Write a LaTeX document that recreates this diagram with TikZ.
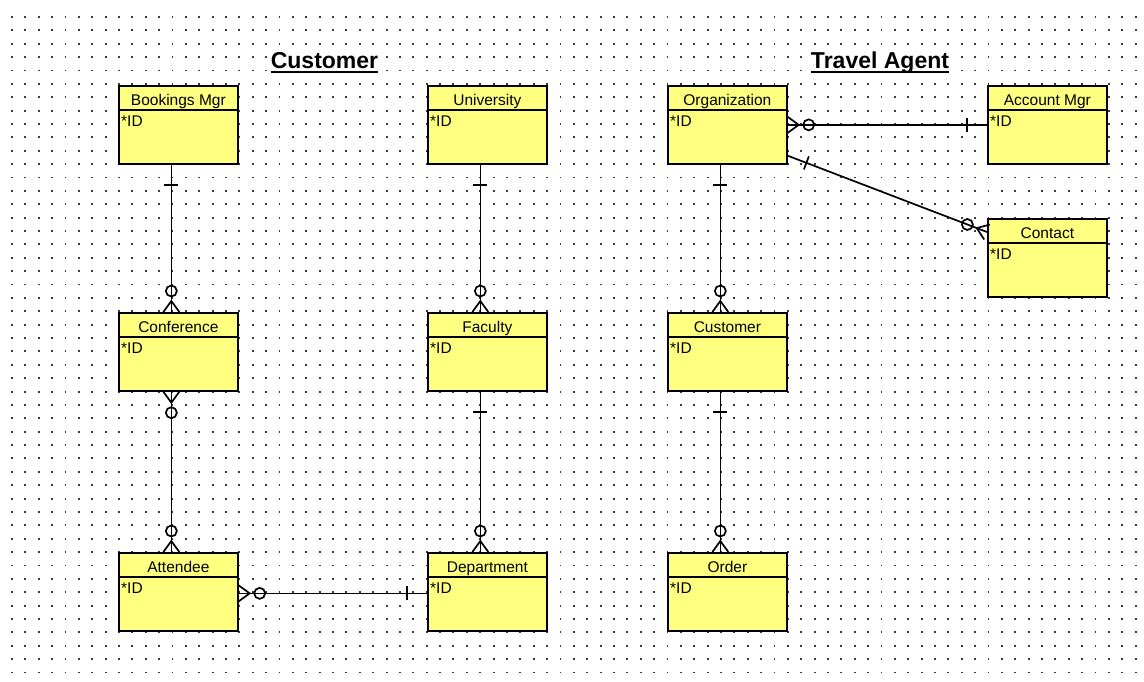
\documentclass[tikz,border=0pt]{standalone}
\usepackage{fontspec}
\setmainfont{Liberation Sans}
\usetikzlibrary{calc}
\definecolor{entfill}{RGB}{255,255,128}
\definecolor{griddot}{RGB}{60,60,60}

\tikzset{
  entity/.style={rectangle, draw=black, line width=1.7pt, fill=entfill,
    minimum width=119pt, minimum height=78pt, inner sep=0pt},
  entline/.style={line width=1.7pt, black},
  enttitle/.style={anchor=base, inner sep=0pt, font=\fontsize{15.5}{18}\selectfont},
  entattr/.style={anchor=base west, inner sep=0pt, font=\fontsize{15.5}{18}\selectfont},
  conn/.style={line width=1.7pt, black},
  titletext/.style={anchor=base, fill=white, inner xsep=3pt, inner ysep=4pt,
    font=\bfseries\fontsize{23}{26}\selectfont},
  gridrow/.style={griddot, line width=1.9pt, dash pattern=on 1.9pt off 11.477pt}
}

\newcommand{\erent}[4]{%
  \node[entity, anchor=north west] (#1) at (#2,#3) {};
  \draw[entline] ($(#1.north west)+(0,25)$) -- ($(#1.north east)+(0,25)$);
  \node[enttitle] (#1-t) at ($(#1.north)+(0,20)$) {#4};
  \node[entattr] (#1-a) at ($(#1.north west)+(3,41)$) {*ID};
}
\newcommand{\mkbar}[2]{%
  \path coordinate (mk) at ($(#1)!20pt!(#2)$);
  \draw[conn] ($(mk)!7pt!90:(#2)$) -- ($(mk)!7pt!-90:(#2)$);
}
\newcommand{\mkmany}[2]{%
  \path coordinate (mk) at ($(#1)!11pt!(#2)$);
  \draw[conn] ($(#1)!8pt!90:(#2)$) -- (mk) -- ($(#1)!8pt!-90:(#2)$);
  \draw[conn] ($(#1)!21pt!(#2)$) circle[radius=5.5pt];
}

\begin{document}
\begin{tikzpicture}[x=1pt, y=-1pt]
\useasboundingbox[fill=white] (0,0) rectangle (1144,681);

% dotted grid
\foreach \j in {0,...,49} {
  \draw[gridrow] (11.05,{17+\j*13.377}) -- (1138,{17+\j*13.377});
}

% titles
\node[titletext] (tcust) at (324.5,68.5) {Customer};
\draw[line width=2pt] ($(tcust.base west)+(3,3.5)$) -- ($(tcust.base east)+(-3,3.5)$);
\node[titletext] (tagent) at (880,68.5) {Travel Agent};
\draw[line width=2pt] ($(tagent.base west)+(3,3.5)$) -- ($(tagent.base east)+(-3,3.5)$);

% entities
\erent{bm}{118}{85}{Bookings Mgr}
\erent{univ}{427}{85}{University}
\erent{org}{667}{85}{Organization}
\erent{am}{987}{85}{Account Mgr}
\erent{conf}{118}{312}{Conference}
\erent{fac}{427}{312}{Faculty}
\erent{cust}{667}{312}{Customer}
\erent{ct}{987}{218}{Contact}
\erent{att}{118}{552}{Attendee}
\erent{dept}{427}{552}{Department}
\erent{ord}{667}{552}{Order}

% connectors
\draw[conn] ($(bm.south)+(-7,0)$) coordinate (p1) -- ($(conf.north)+(-7,0)$) coordinate (q1);
\mkbar{p1}{q1} \mkmany{q1}{p1}

\draw[conn] ($(conf.south)+(-7,0)$) coordinate (p2) -- ($(att.north)+(-7,0)$) coordinate (q2);
\mkmany{p2}{q2} \mkmany{q2}{p2}

\draw[conn] ($(att.east)+(0,1.5)$) coordinate (p3) -- ($(dept.west)+(0,1.5)$) coordinate (q3);
\mkmany{p3}{q3} \mkbar{q3}{p3}

\draw[conn] ($(univ.south)+(-7,0)$) coordinate (p4) -- ($(fac.north)+(-7,0)$) coordinate (q4);
\mkbar{p4}{q4} \mkmany{q4}{p4}

\draw[conn] ($(fac.south)+(-7,0)$) coordinate (p5) -- ($(dept.north)+(-7,0)$) coordinate (q5);
\mkbar{p5}{q5} \mkmany{q5}{p5}

\draw[conn] (org.east) coordinate (p6) -- (am.west) coordinate (q6);
\mkmany{p6}{q6} \mkbar{q6}{p6}

\draw[conn] ($(org.south east)+(0,-9)$) coordinate (p7) -- ($(ct.north west)+(0,14)$) coordinate (q7);
\mkbar{p7}{q7} \mkmany{q7}{p7}

\draw[conn] ($(org.south)+(-7,0)$) coordinate (p8) -- ($(cust.north)+(-7,0)$) coordinate (q8);
\mkbar{p8}{q8} \mkmany{q8}{p8}

\draw[conn] ($(cust.south)+(-7,0)$) coordinate (p9) -- ($(ord.north)+(-7,0)$) coordinate (q9);
\mkbar{p9}{q9} \mkmany{q9}{p9}
\end{tikzpicture}
\end{document}
